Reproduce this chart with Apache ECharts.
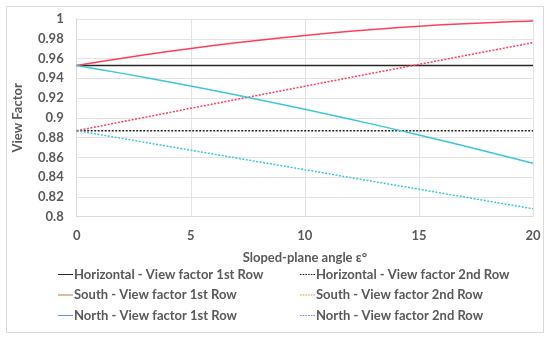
<!DOCTYPE html>
<html><head><meta charset="utf-8">
<script src="https://cdn.jsdelivr.net/npm/echarts@6/dist/echarts.min.js"></script>
<style>html,body{margin:0;padding:0;background:#fff}#c{width:550px;height:341px}</style>
</head><body><div id="c"></div>
<script>
const angles = [0,1,2,3,4,5,6,7,8,9,10,11,12,13,14,15,16,17,18,19,20];
const horiz1 = [0.953,0.953,0.953,0.953,0.953,0.953,0.953,0.953,0.953,0.953,0.953,0.953,0.953,0.953,0.953,0.953,0.953,0.953,0.953,0.953,0.953];
const horiz2 = [0.887,0.887,0.887,0.887,0.887,0.887,0.887,0.887,0.887,0.887,0.887,0.887,0.887,0.887,0.887,0.887,0.887,0.887,0.887,0.887,0.887];
const south1 = [0.953,0.9568,0.9604,0.9638,0.9671,0.9702,0.9732,0.9760,0.9786,0.9811,0.9834,0.9856,0.9876,0.9895,0.9912,0.9927,0.9941,0.9953,0.9963,0.9973,0.9980];
const south2 = [0.887,0.8915,0.8961,0.9006,0.9051,0.9097,0.9141,0.9186,0.9231,0.9275,0.9320,0.9364,0.9409,0.9453,0.9497,0.9541,0.9585,0.9629,0.9673,0.9717,0.9760];
const north1 = [0.953,0.9490,0.9450,0.9408,0.9365,0.9322,0.9277,0.9231,0.9184,0.9136,0.9087,0.9037,0.8986,0.8934,0.8881,0.8827,0.8771,0.8715,0.8658,0.8599,0.8540];
const north2 = [0.887,0.8831,0.8791,0.8752,0.8712,0.8673,0.8633,0.8594,0.8554,0.8515,0.8475,0.8436,0.8396,0.8357,0.8317,0.8278,0.8238,0.8199,0.8159,0.8120,0.8080];
const names = ['Horizontal - View factor 1st Row','Horizontal - View factor 2nd Row','South - View factor 1st Row','South - View factor 2nd Row','North - View factor 1st Row','North - View factor 2nd Row'];

const FONT = 'Lato';
const TXT = '#595959';
const SOLID_ICON = 'path://M0,0H15V1H0Z';
const DOT_ICON = 'path://M0,0h1.6v1h-1.6z M2.7,0h1.6v1h-1.6z M5.4,0h1.6v1h-1.6z M8.1,0h1.6v1h-1.6z M10.8,0h1.6v1h-1.6z M13.4,0h1.6v1h-1.6z';
const pair = (arr) => angles.map((a,i)=>[a,arr[i]]);
function mk(name, arr, color, dashed){
  return {name, type:'line', data:pair(arr), symbol:'none', smooth:false,
    lineStyle:{color, width:1.5, type: dashed ? [2,1.5] : 'solid'},
    itemStyle:{color}, animation:false};
}
const li = (n, icon, color) => ({name:n, icon, itemStyle:{color, borderWidth:0}, lineStyle:{width:0}});
const chart = echarts.init(document.getElementById('c'));
const legendText = {fontFamily:FONT, fontSize:13, fontWeight:'bold', color:TXT, padding:[0,0,0,-4]};
chart.setOption({
  backgroundColor:'#fff',
  animation:false,
  graphic:[{type:'rect', shape:{x:6.5,y:6.5,width:537,height:326}, style:{fill:'none', stroke:'#d9d9d9', lineWidth:1}}],
  grid:{left:76.7, right:17, top:19, bottom:124.3},
  xAxis:{type:'value', min:0, max:20, interval:5,
    name:'Sloped-plane angle ε°', nameLocation:'middle', nameGap:35,
    nameTextStyle:{fontFamily:FONT, fontWeight:'bold', fontSize:13, color:TXT},
    axisLine:{show:true, lineStyle:{color:'#d9d9d9'}}, axisTick:{show:false},
    axisLabel:{fontFamily:FONT, fontWeight:'bold', fontSize:13, color:TXT, margin:13},
    splitLine:{show:true, lineStyle:{color:'#e3e3e3'}}},
  yAxis:{type:'value', min:0.8, max:1, interval:0.02,
    name:'View Factor', nameLocation:'middle', nameGap:52,
    nameTextStyle:{fontFamily:FONT, fontWeight:'bold', fontSize:13, color:TXT},
    axisLine:{show:true, lineStyle:{color:'#d9d9d9'}}, axisTick:{show:false},
    axisLabel:{fontFamily:FONT, fontWeight:'bold', fontSize:13, color:TXT, margin:13,
      formatter:(v)=>String(parseFloat(v.toFixed(2)))},
    splitLine:{show:true, lineStyle:{color:'#e3e3e3'}}},
  legend:[
    {orient:'vertical', left:53, top:263, itemWidth:15, itemHeight:1.5, itemGap:7.5,
     textStyle:legendText,
     data:[li(names[0], SOLID_ICON, '#262626'), li(names[2], SOLID_ICON, '#a5824a'), li(names[4], SOLID_ICON, '#7090d8')]},
    {orient:'vertical', left:295, top:263, itemWidth:15, itemHeight:1.5, itemGap:7.5,
     textStyle:legendText,
     data:[li(names[1], DOT_ICON, '#262626'), li(names[3], DOT_ICON, '#d09a40'), li(names[5], DOT_ICON, '#7090d8')]}
  ],
  series:[
    mk(names[0], horiz1, '#262626', false),
    mk(names[1], horiz2, '#262626', true),
    mk(names[2], south1, '#ff3f5f', false),
    mk(names[3], south2, '#ff3f5f', true),
    mk(names[4], north1, '#3fc6d6', false),
    mk(names[5], north2, '#3fc6d6', true)
  ]
});
</script></body></html>
